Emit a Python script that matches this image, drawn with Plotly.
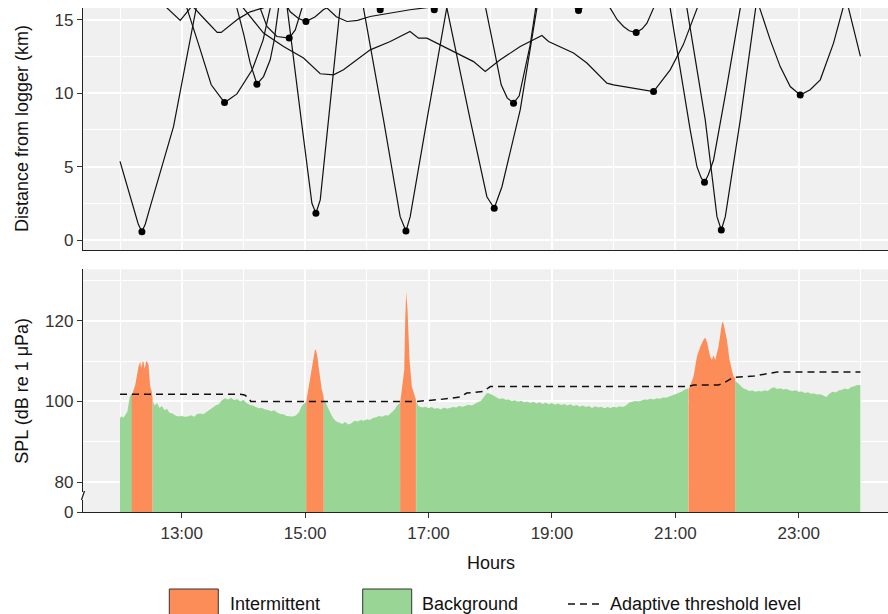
import plotly.graph_objects as go

# ---------------- Top panel: vessel tracks (hours, km) ----------------
track_a_h = [12.0, 12.295, 12.355, 12.41, 12.49, 12.867, 13.235, 13.30]
track_a_km = [5.35, 1.09, 0.57, 1.09, 2.27, 7.72, 15.8, 16.7]

track_w_h = [12.65, 12.76, 12.976, 13.17, 13.38, 13.575, 13.64, 13.916, 14.11, 14.32, 14.47]
track_w_km = [16.5, 15.81, 14.96, 15.95, 15.0, 14.14, 14.14, 15.06, 15.54, 15.81, 16.22]

track_b_h = [13.024, 13.084, 13.267, 13.478, 13.694, 13.895, 14.143, 14.32, 14.434, 14.467]
track_b_km = [16.7, 15.79, 13.41, 10.57, 9.36, 9.95, 11.59, 13.63, 15.79, 16.5]

track_c_h = [13.867, 13.895, 14.0, 14.11, 14.219, 14.326, 14.434, 14.5, 14.569, 14.588]
track_c_km = [16.56, 15.79, 14.09, 12.05, 10.61, 11.13, 12.27, 13.63, 15.79, 16.56]

track_d_h = [14.24, 14.272, 14.381, 14.543, 14.742, 14.84, 14.948, 14.97]
track_d_km = [16.5, 15.79, 14.54, 13.86, 13.75, 14.31, 15.79, 16.5]

track_e_h = [14.645, 14.759, 14.888, 15.013, 15.164, 15.294, 15.353, 15.42]
track_e_km = [16.36, 15.54, 15.1, 14.88, 15.2, 15.68, 15.81, 16.16]

track_f_h = [14.694, 14.71, 14.937, 15.11, 15.175, 15.245, 15.379, 15.569, 15.585]
track_f_km = [16.56, 15.79, 8.18, 2.5, 1.82, 2.73, 8.18, 15.79, 16.56]

track_i_h = [13.948, 14.0, 14.326, 14.65, 14.974, 15.245, 15.46, 15.622, 16.055, 16.38,
             16.70, 16.838, 16.974, 17.19, 17.46, 17.73, 17.919, 18.162, 18.486, 18.838,
             18.945, 19.35, 19.567, 19.891, 19.998, 20.647, 20.917, 21.128, 21.355, 21.40]
track_i_km = [16.5, 15.79, 14.09, 13.18, 12.39, 11.32, 11.25, 11.59, 12.95, 13.52,
              14.2, 13.75, 13.75, 13.29, 12.73, 12.15, 11.47, 12.27, 13.18, 13.93,
              13.52, 12.73, 12.05, 10.68, 10.57, 10.11, 11.59, 13.29, 15.79, 16.5]

track_g_h = [15.298, 15.357, 15.506, 15.68, 15.85, 16.055, 16.70, 16.92, 17.08, 17.35]
track_g_km = [16.56, 15.79, 15.2, 14.88, 14.96, 15.22, 15.68, 15.79, 15.88, 16.09]

track_t1_h = [16.087, 16.152, 16.217, 16.282, 16.347]
track_t1_km = [16.36, 15.85, 15.68, 15.85, 16.36]

track_h_h = [15.909, 15.946, 16.271, 16.54, 16.634, 16.703, 16.974, 17.298, 17.327]
track_h_km = [16.56, 15.79, 8.18, 1.59, 0.61, 1.59, 8.18, 15.79, 16.56]

track_t2_h = [16.963, 17.028, 17.093, 17.158, 17.222]
track_t2_km = [16.36, 15.85, 15.68, 15.85, 16.36]

track_k_h = [17.27, 17.298, 17.676, 17.946, 18.065, 18.19, 18.486, 18.757, 18.786]
track_k_km = [16.56, 15.79, 8.18, 2.95, 2.16, 3.63, 8.86, 15.79, 16.56]

track_l_h = [17.903, 17.927, 18.065, 18.178, 18.275, 18.378, 18.47, 18.54, 18.648, 18.737, 18.761]
track_l_km = [16.56, 15.79, 12.95, 10.57, 9.68, 9.32, 9.82, 11.13, 13.29, 15.79, 16.56]

track_t3_h = [19.297, 19.361, 19.431, 19.507, 19.572]
track_t3_km = [16.36, 15.85, 15.63, 15.85, 16.36]

track_m_h = [19.88, 19.945, 20.058, 20.16, 20.253, 20.366, 20.463, 20.54, 20.647, 20.674]
track_m_km = [16.56, 15.79, 15.0, 14.54, 14.25, 14.13, 14.38, 14.77, 15.79, 16.56]

track_n_h = [20.885, 20.917, 21.241, 21.35, 21.42, 21.473, 21.533, 21.62, 21.825, 22.052, 22.084]
track_n_km = [16.56, 15.79, 7.5, 5.0, 4.23, 3.93, 4.43, 5.45, 10.23, 15.79, 16.56]

track_o_h = [21.16, 21.188, 21.485, 21.675, 21.745, 21.81, 22.053, 22.303, 22.327]
track_o_km = [16.56, 15.79, 8.18, 1.59, 0.68, 1.59, 8.18, 15.79, 16.56]

track_p_h = [22.344, 22.368, 22.538, 22.70, 22.862, 23.024, 23.186, 23.349, 23.564, 23.726, 23.767, 23.807, 24.0]
track_p_km = [16.56, 15.79, 13.63, 11.81, 10.45, 9.88, 10.23, 10.91, 13.41, 15.79, 16.56, 15.79, 12.5]

# closest points of approach (dots)
cpa_hours = [12.355, 13.694, 14.219, 14.742, 15.013, 15.175, 16.217, 16.634, 17.093,
             18.065, 18.378, 19.431, 20.366, 20.647, 21.473, 21.745, 23.024]
cpa_km = [0.57, 9.36, 10.61, 13.75, 14.88, 1.82, 15.68, 0.61, 15.68,
          2.16, 9.32, 15.63, 14.13, 10.11, 3.93, 0.68, 9.88]

# ---------------- Bottom panel: SPL (hours, dB) ----------------
bg_hours = [12.00, 12.03, 12.06, 12.09, 12.12, 12.14, 12.16, 12.18, 12.20, None,
            12.53, 12.56, 12.60, 12.64, 12.68, 12.72, 12.76, 12.80, 12.85, 12.90, 12.95,
            13.00, 13.05, 13.10, 13.15, 13.20, 13.25, 13.30, 13.35, 13.40, 13.45, 13.50,
            13.55, 13.60, 13.65, 13.70, 13.75, 13.80, 13.85, 13.90, 13.95, 14.00, 14.05,
            14.10, 14.15, 14.20, 14.25, 14.30, 14.35, 14.40, 14.45, 14.50, 14.55, 14.60,
            14.65, 14.70, 14.75, 14.80, 14.85, 14.90, 14.95, 15.00, 15.02, None,
            15.30, 15.34, 15.38, 15.42, 15.46, 15.50, 15.55, 15.60, 15.65, 15.70, 15.75,
            15.80, 15.85, 15.90, 15.95, 16.00, 16.05, 16.10, 16.15, 16.20, 16.25, 16.30,
            16.35, 16.40, 16.45, 16.50, 16.54, None,
            16.80, 16.84, 16.90, 16.95, 17.00, 17.05, 17.10, 17.15, 17.20, 17.25, 17.30,
            17.35, 17.40, 17.45, 17.50, 17.55, 17.60, 17.65, 17.70, 17.75, 17.80, 17.85,
            17.90, 17.95, 18.00, 18.05, 18.10, 18.15, 18.20, 18.25, 18.30, 18.35, 18.40,
            18.45, 18.50, 18.55, 18.60, 18.65, 18.70, 18.75, 18.80, 18.85, 18.90, 18.95,
            19.00, 19.05, 19.10, 19.15, 19.20, 19.25, 19.30, 19.35, 19.40, 19.45, 19.50,
            19.55, 19.60, 19.65, 19.70, 19.75, 19.80, 19.85, 19.90, 19.95, 20.00, 20.05,
            20.10, 20.15, 20.20, 20.25, 20.30, 20.35, 20.40, 20.45, 20.50, 20.55, 20.60,
            20.65, 20.70, 20.75, 20.80, 20.85, 20.90, 20.95, 21.00, 21.05, 21.10, 21.15,
            21.21, None,
            21.97, 22.00, 22.05, 22.10, 22.15, 22.20, 22.25, 22.30, 22.35, 22.40, 22.45,
            22.50, 22.55, 22.60, 22.65, 22.70, 22.75, 22.80, 22.85, 22.90, 22.95, 23.00,
            23.05, 23.10, 23.15, 23.20, 23.25, 23.30, 23.35, 23.40, 23.45, 23.50, 23.55,
            23.60, 23.65, 23.70, 23.75, 23.80, 23.85, 23.90, 23.95, 24.00]
bg_db = [95.9, 96.3, 96.0, 96.8, 97.5, 99.5, 101.2, 101.8, 102.0, None,
         100.2, 99.0, 99.6, 98.4, 98.9, 97.8, 98.2, 97.2, 97.0, 96.5, 96.3,
         96.4, 96.2, 96.3, 96.6, 96.2, 96.9, 97.0, 96.8, 97.4, 98.0, 98.4,
         99.0, 99.3, 100.3, 100.8, 100.5, 100.9, 100.3, 100.6, 100.0, 100.4, 99.6,
         99.2, 99.0, 98.6, 98.3, 98.4, 98.0, 97.9, 97.6, 97.8, 97.2, 96.9,
         96.8, 96.4, 96.3, 96.3, 96.5, 97.3, 99.0, 99.8, 100.0, None,
         100.8, 99.4, 98.0, 96.8, 95.8, 95.1, 94.8, 94.4, 94.9, 94.3, 94.6,
         95.2, 95.0, 95.4, 95.2, 95.6, 95.4, 95.9, 96.1, 96.4, 96.2, 96.6,
         96.5, 97.2, 98.0, 99.2, 99.6, None,
         100.0, 98.8, 98.5, 98.7, 98.3, 98.6, 98.2, 98.4, 98.0, 98.5, 98.2,
         98.4, 98.6, 98.5, 98.9, 98.7, 99.0, 99.2, 99.0, 99.4, 99.6, 100.2,
         101.2, 102.1, 101.9, 101.5, 100.9, 100.6, 100.8, 100.4, 100.5, 100.1, 100.3,
         99.9, 100.2, 99.8, 100.0, 99.6, 99.9, 99.5, 99.8, 99.4, 99.7, 99.3,
         99.6, 99.2, 99.5, 99.1, 99.4, 99.0, 99.3, 98.9, 99.1, 98.7, 99.0,
         98.6, 98.9, 98.4, 98.8, 98.5, 98.7, 98.3, 98.6, 98.4, 98.7, 98.5,
         98.8, 98.6, 99.0, 99.7, 99.9, 100.1, 100.0, 100.3, 100.5, 100.4, 100.7,
         100.5, 100.8, 100.7, 101.0, 100.9, 101.2, 101.4, 101.8, 102.1, 102.4, 102.9,
         103.3, None,
         105.0, 104.8, 104.0, 103.3, 103.0, 102.6, 102.7, 102.4, 102.6, 102.5, 102.8,
         102.6, 103.2, 103.5, 103.1, 103.3, 103.0, 103.1, 102.8, 102.6, 102.8, 102.4,
         102.5, 102.1, 102.3, 101.9, 102.0, 101.7, 101.8, 101.5, 101.1, 102.0, 102.4,
         102.2, 102.7, 102.9, 103.2, 103.0, 103.6, 103.8, 104.1, 104.0]

int_hours = [12.190, 12.203, 12.246, 12.300, 12.327, 12.341, 12.355, 12.368, 12.381, 12.395,
             12.408, 12.422, 12.436, 12.449, 12.462, 12.489, 12.515, 12.527, None,
             15.018, 15.056, 15.080, 15.110, 15.147, 15.160, 15.175, 15.200, 15.220, 15.245,
             15.270, 15.300, None,
             16.540, 16.579, 16.606, 16.622, 16.630, 16.638, 16.660, 16.692, 16.730, 16.796, None,
             21.214, 21.295, 21.350, 21.404, 21.457, 21.485, 21.512, 21.566, 21.593, 21.619,
             21.647, 21.700, 21.755, 21.771, 21.792, 21.836, 21.879, 21.917, 21.943, 21.970]
int_db = [101.8, 102.1, 104.1, 108.7, 109.9, 108.3, 109.1, 110.0, 109.9, 108.2,
          108.7, 110.0, 109.9, 109.3, 109.1, 103.7, 102.4, 101.0, None,
          100.0, 103.7, 106.0, 108.7, 112.4, 112.9, 112.8, 111.1, 108.5, 105.4,
          103.0, 101.2, None,
          99.6, 103.7, 107.8, 120.2, 124.5, 127.2, 122.7, 110.3, 103.7, 100.4, None,
          102.9, 106.2, 111.1, 113.6, 115.3, 115.9, 114.8, 111.1, 110.3, 111.5,
          110.3, 113.6, 119.4, 119.8, 118.6, 115.3, 110.3, 107.4, 106.2, 105.8]

thr_hours = [12.0, 13.95, 14.02, 14.08, 14.12, 16.80, 17.19, 17.51, 17.62, 17.89, 18.0,
             21.21, 21.30, 21.70, 21.80, 21.94, 22.27, 22.54, 22.65, 24.0]
thr_db = [101.8, 101.8, 101.6, 101.0, 100.0, 100.0, 100.5, 101.1, 102.1, 102.5, 103.7,
          103.7, 104.1, 104.1, 104.7, 106.0, 106.3, 107.0, 107.3, 107.3]

# axis ticks
major_hours = [13, 15, 17, 19, 21, 23]
hour_labels = ["13:00", "15:00", "17:00", "19:00", "21:00", "23:00"]
minor_hours = [12, 14, 16, 18, 20, 22, 24]
dist_ticks = [0, 5, 10, 15]
dist_minor = [2.5, 7.5, 12.5]
spl_floor = 72.57          # position of the broken-axis "0"
spl_ticks = [spl_floor, 80, 100, 120]
spl_labels = ["0", "80", "100", "120"]
spl_minor = [90, 110, 130]

ORANGE = "#FC8D59"
GREEN = "#99D594"
BG = "#F0F0F0"
FONT = "Liberation Sans, Arial, Helvetica, sans-serif"


def segments(xs, ys):
    """Split series at None separators into contiguous runs."""
    out, cx, cy = [], [], []
    for xv, yv in zip(xs, ys):
        if xv is None:
            if cx:
                out.append((cx, cy))
            cx, cy = [], []
        else:
            cx.append(xv)
            cy.append(yv)
    if cx:
        out.append((cx, cy))
    return out


fig = go.Figure()

tracks = [
    (track_a_h, track_a_km), (track_w_h, track_w_km), (track_b_h, track_b_km),
    (track_c_h, track_c_km), (track_d_h, track_d_km), (track_e_h, track_e_km),
    (track_f_h, track_f_km), (track_i_h, track_i_km), (track_g_h, track_g_km),
    (track_t1_h, track_t1_km), (track_h_h, track_h_km), (track_t2_h, track_t2_km),
    (track_k_h, track_k_km), (track_l_h, track_l_km), (track_t3_h, track_t3_km),
    (track_m_h, track_m_km), (track_n_h, track_n_km), (track_o_h, track_o_km),
    (track_p_h, track_p_km),
]
for th, tk in tracks:
    fig.add_trace(go.Scatter(x=th, y=tk, mode="lines", line=dict(color="#111111", width=1.2),
                             xaxis="x", yaxis="y", showlegend=False, hoverinfo="skip"))
fig.add_trace(go.Scatter(x=cpa_hours, y=cpa_km, mode="markers",
                         marker=dict(color="#000000", size=7),
                         xaxis="x", yaxis="y", showlegend=False))

for sx, sy in segments(bg_hours, bg_db):
    fig.add_trace(go.Scatter(x=sx, y=sy, mode="lines", fill="tozeroy",
                             line=dict(width=0, color=GREEN), fillcolor=GREEN,
                             xaxis="x2", yaxis="y2", showlegend=False))
for sx, sy in segments(int_hours, int_db):
    fig.add_trace(go.Scatter(x=sx, y=sy, mode="lines", fill="tozeroy",
                             line=dict(width=0, color=ORANGE), fillcolor=ORANGE,
                             xaxis="x2", yaxis="y2", showlegend=False))
fig.add_trace(go.Scatter(x=thr_hours, y=thr_db, mode="lines",
                         line=dict(color="#111111", width=1.5, dash="7px,5px"),
                         xaxis="x2", yaxis="y2", showlegend=False))

W, H = 888, 614
ML, MR, MT, MB = 83, 0, 8, 102
PW, PH = W - ML - MR, H - MT - MB


def px(xp):
    return (xp - ML) / PW


def py(yp):
    return (H - MB - yp) / PH


xr = [11.4, 11.4 + PW / 61.7]

common_x = dict(range=xr, tickvals=major_hours, showgrid=True, gridcolor="white", gridwidth=1.5,
                minor=dict(tickvals=minor_hours, showgrid=True, gridcolor="white", gridwidth=0.7, ticks=""),
                showline=True, linecolor="#222222", linewidth=1.3, zeroline=False)

fig.update_layout(
    width=W, height=H,
    margin=dict(l=ML, r=MR, t=MT, b=MB),
    paper_bgcolor="white", plot_bgcolor=BG,
    font=dict(family=FONT, size=17, color="#333333"),
    showlegend=False,
    xaxis=dict(domain=[0, 1], anchor="y", showticklabels=False, ticks="", **common_x),
    xaxis2=dict(domain=[0, 1], anchor="y2", matches="x", ticktext=hour_labels, ticks="outside",
                ticklen=5, tickwidth=1.2, tickcolor="#333333", **common_x),
    yaxis=dict(domain=[py(250), 1], anchor="x", range=[-0.68, 15.8], tickvals=dist_ticks,
               ticks="outside", ticklen=5, tickwidth=1.2, tickcolor="#333333",
               showgrid=True, gridcolor="white", gridwidth=1.5,
               minor=dict(tickvals=dist_minor, showgrid=True, gridcolor="white", gridwidth=0.7, ticks=""),
               showline=True, linecolor="#222222", linewidth=1.3, zeroline=False),
    yaxis2=dict(domain=[0, py(269.3)], anchor="x2", range=[spl_floor, 132.8], tickvals=spl_ticks,
                ticktext=spl_labels, ticks="outside", ticklen=5, tickwidth=1.2, tickcolor="#333333",
                showgrid=True, gridcolor="white", gridwidth=1.5,
                minor=dict(tickvals=spl_minor, showgrid=True, gridcolor="white", gridwidth=0.7, ticks=""),
                showline=True, linecolor="#222222", linewidth=1.3, zeroline=False),
)

# axis titles
ann = [
    dict(text="Distance from logger (km)", x=px(22), y=py(129), textangle=-90),
    dict(text="SPL (dB re 1 \u03bcPa)", x=px(22), y=py(390.7), textangle=-90),
    dict(text="Hours", x=px(491), y=py(563), textangle=0),
]
for a in ann:
    fig.add_annotation(xref="paper", yref="paper", showarrow=False, xanchor="center", yanchor="middle",
                       font=dict(family=FONT, size=18, color="#111111"), **a)

# custom legend
fig.add_shape(type="rect", xref="paper", yref="paper", x0=px(169.3), x1=px(218.3), y0=py(625), y1=py(589),
              fillcolor=ORANGE, line=dict(color="#333333", width=1))
fig.add_shape(type="rect", xref="paper", yref="paper", x0=px(362.7), x1=px(411.7), y0=py(625), y1=py(589),
              fillcolor=GREEN, line=dict(color="#333333", width=1))
fig.add_shape(type="line", xref="paper", yref="paper", x0=px(568), x1=px(603), y0=py(604), y1=py(604),
              line=dict(color="#111111", width=1.5, dash="7px,5px"))
for txt, xl in [("Intermittent", 228.3), ("Background", 420), ("Adaptive threshold level", 608)]:
    fig.add_annotation(xref="paper", yref="paper", x=px(xl), y=py(604), text=txt, showarrow=False,
                       xanchor="left", yanchor="middle", font=dict(family=FONT, size=18, color="#111111"))

# axis break marker on the SPL axis
fig.add_shape(type="line", xref="paper", yref="paper", x0=px(83), x1=px(83), y0=py(500), y1=py(492),
              line=dict(color="white", width=3), layer="above")
fig.add_shape(type="line", xref="paper", yref="paper", x0=px(81.5), x1=px(84.5), y0=py(500), y1=py(491),
              line=dict(color="#222222", width=1.3), layer="above")

fig.write_html("out.html", config={"displayModeBar": False},
               post_script="document.body.style.margin='0px';document.body.style.overflow='hidden';")
